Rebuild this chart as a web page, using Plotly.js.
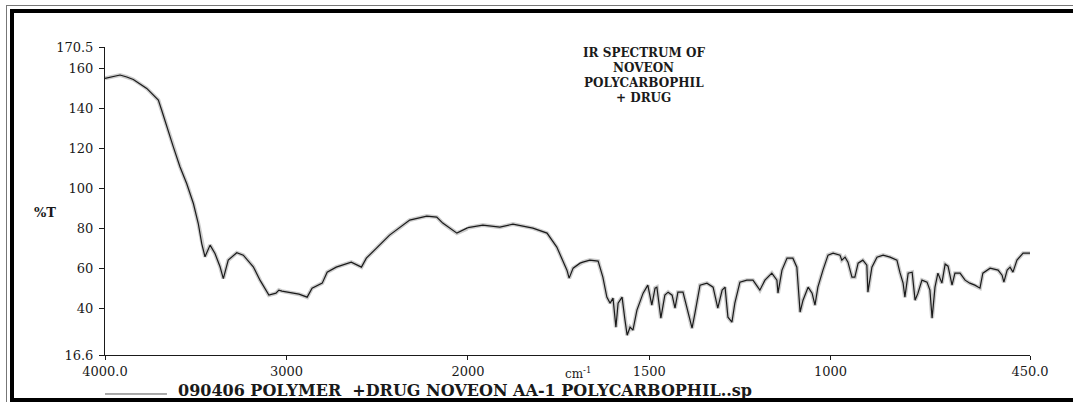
<!DOCTYPE html>
<html>
<head>
<meta charset="utf-8">
<script src="https://cdn.plot.ly/plotly-3.0.1.min.js"></script>
<style>
  html, body { margin: 0; padding: 0; background: #fff; overflow: hidden; }
  #wrap { position: relative; width: 1073px; height: 402px; overflow: hidden; }
  #chart { position: absolute; left: 0; top: 0; width: 1073px; height: 402px; }
  .frame-thin { position: absolute; left: 6px; top: 5px; width: 1200px; height: 500px;
    border-left: 1px solid #777; border-top: 1px solid #777; pointer-events: none; }
  .frame-thick { position: absolute; left: 10px; top: 9px; width: 1200px; height: 385px;
    border-left: 4px solid #000; border-top: 4px solid #000; border-bottom: 4px solid #000; pointer-events: none; }
</style>
</head>
<body>
<div id="wrap">
  <div id="chart"></div>
  <div class="frame-thin"></div>
  <div class="frame-thick"></div>
</div>
<script>
// Wavenumber (cm-1) and %T
const wavenumber = [
  4000, 3960, 3917, 3880, 3844, 3770, 3706, 3688, 3660, 3624, 3587, 3550, 3513,
  3486, 3467, 3449, 3421, 3394, 3366, 3348, 3321, 3274, 3238, 3183, 3146, 3120,
  3097, 3058, 3042, 3025, 2986, 2970, 2931, 2886, 2859, 2803,
  2776, 2726, 2643, 2587, 2560, 2504, 2432, 2321, 2227, 2172, 2139, 2061, 2006,
  1959, 1912, 1876, 1821, 1782, 1755, 1727, 1721, 1710, 1691, 1683, 1664, 1641,
  1628, 1617, 1608, 1600, 1592, 1586, 1575, 1567, 1561, 1553, 1545, 1534, 1517,
  1504, 1493, 1484, 1479, 1468, 1457, 1448, 1437, 1429, 1421, 1407, 1396, 1382,
  1374, 1360, 1341, 1324, 1311, 1299, 1291, 1283, 1272, 1264, 1250, 1231, 1214,
  1195, 1181, 1162, 1148, 1145, 1134, 1120, 1104, 1093, 1084, 1076, 1062, 1051,
  1043, 1035, 1021, 1007, 993, 974, 969, 960, 952, 941, 933, 924, 911, 900, 897,
  886, 872, 855, 836, 817, 809, 800, 795, 786, 775, 767, 759, 748, 734, 726, 720,
  712, 704, 693, 684, 676, 665, 657, 643, 629, 616, 602, 588, 580, 560, 538, 527,
  522, 513, 505, 497, 486, 469, 450
];
const transmittance = [
  154.8, 155.8, 156.5, 155.5, 154.3, 149.8, 144, 139, 130.7, 120.7, 110.7, 102.3, 92.3,
  82.3, 72.3, 65.7, 71.5, 67.3, 60.7, 54.8, 64, 67.7, 66.5, 60.7, 54, 50,
  46.5, 47.5, 49, 48.5, 48, 47.5, 47, 45.5, 50, 52.5,
  58, 60.5, 63, 60.5, 65, 70, 76.5, 84, 86, 85.5, 82.5, 77.5, 80,
  81.5, 80.5, 82, 80, 77.5, 70.5, 59, 55, 60, 62.5, 63, 64, 63.5,
  55.5, 45.5, 42.5, 45, 30.5, 42.5, 45.5, 34, 26.5, 30.5, 29, 39, 47.5,
  51.5, 41.5, 50, 50.5, 35, 46.5, 48, 46.5, 40, 48, 48, 40.5, 30,
  37.5, 51.5, 52.5, 50.5, 40, 49, 50.5, 35.5, 33, 42.5, 53, 54, 54,
  49, 54, 57.5, 54, 47.5, 59, 65, 65, 60.5, 38, 44, 50.5, 47.5,
  41.5, 50.5, 59, 66.5, 67.5, 66.5, 64, 65.5, 63, 55.5, 55.5, 62.5, 64, 61.5, 48,
  60.5, 65.5, 66.5, 65.5, 64, 58, 52.5, 45.5, 57.5, 58, 44, 47.5, 54, 53, 49, 35,
  50.5, 57.5, 52.5, 62, 61, 51.5, 57.5, 57.5, 54, 52.5, 51.5, 50, 57.5, 60, 59, 56.5,
  53, 59, 60.5, 58, 64, 67.5, 67.5
];

const xTicksHigh = [4000, 3000];
const xTickTextHigh = ['4000.0', '3000'];
const xTicksLow = [2000, 1500, 1000, 450];
const xTickTextLow = ['2000', '1500', '1000', '450.0'];
const yTicks = [16.6, 40, 60, 80, 100, 120, 140, 160, 170.5];
const yTickText = ['16.6', '40', '60', '80', '100', '120', '140', '160', '170.5'];
const titleLines = ['IR SPECTRUM OF', 'NOVEON', 'POLYCARBOPHIL', '+ DRUG'];
const sampleName = '090406 POLYMER  +DRUG NOVEON AA-1 POLYCARBOPHIL..sp';

const serif = 'DejaVu Serif, Liberation Serif, serif';
const ink = '#1a1a1a';

function traces(xa) {
  return [
    { x: wavenumber, y: transmittance, xaxis: xa, yaxis: 'y', type: 'scatter', mode: 'lines',
      line: { color: 'rgba(0,0,0,0.2)', width: 4 }, hoverinfo: 'skip', showlegend: false },
    { x: wavenumber, y: transmittance, xaxis: xa, yaxis: 'y', type: 'scatter', mode: 'lines',
      name: sampleName, line: { color: ink, width: 1.2 }, showlegend: false }
  ];
}

const data = traces('x').concat(traces('x2'));

const axisStyle = {
  showline: true, linecolor: ink, linewidth: 1, showgrid: false, zeroline: false,
  ticks: 'outside', tickcolor: ink, tickwidth: 1,
  tickfont: { family: serif, size: 13, color: ink }
};

const split = 0.3924;
const titleY = [0.9805, 0.9318, 0.8831, 0.8344];

const annotations = titleLines.map((t, i) => ({
  text: t, xref: 'paper', yref: 'paper', x: 0.5827, y: titleY[i],
  xanchor: 'center', yanchor: 'middle', showarrow: false, borderpad: 0,
  font: { family: serif, size: 12, color: ink, weight: 'bold' }
}));
annotations.push({
  text: '%T', xref: 'paper', yref: 'paper', x: -0.065, y: 0.464,
  xanchor: 'center', yanchor: 'middle', showarrow: false,
  font: { family: serif, size: 13, color: ink, weight: 'bold' }
});
annotations.push({
  text: 'cm<sup>-1</sup>', xref: 'paper', yref: 'paper', x: 0.511, y: -0.058,
  xanchor: 'center', yanchor: 'middle', showarrow: false, borderpad: 0,
  font: { family: serif, size: 12, color: ink }
});
annotations.push({
  text: sampleName, xref: 'paper', yref: 'paper', x: 0.0778, y: -0.1494,
  xanchor: 'left', yanchor: 'bottom', showarrow: false, borderpad: 0,
  font: { family: serif, size: 16, color: ink, weight: 'bold' }
});

const layout = {
  width: 1073, height: 402,
  margin: { l: 105, r: 43, t: 47, b: 47, pad: 0 },
  paper_bgcolor: '#fff', plot_bgcolor: '#fff',
  showlegend: false,
  xaxis: Object.assign({}, axisStyle, {
    domain: [0, split], range: [4000, 2000], anchor: 'y',
    tickmode: 'array', tickvals: xTicksHigh, ticktext: xTickTextHigh, ticklen: 4
  }),
  xaxis2: Object.assign({}, axisStyle, {
    domain: [split, 1], range: [2000, 450], anchor: 'y',
    tickmode: 'array', tickvals: xTicksLow, ticktext: xTickTextLow, ticklen: 4
  }),
  yaxis: Object.assign({}, axisStyle, {
    domain: [0, 1], range: [16.6, 170.5], anchor: 'x',
    tickmode: 'array', tickvals: yTicks, ticktext: yTickText, ticklen: 5,
    ticklabelstandoff: 3
  }),
  annotations: annotations,
  shapes: [{
    type: 'line', xref: 'paper', yref: 'paper', x0: 0, x1: 0.067, y0: -0.1266, y1: -0.1266,
    line: { color: '#555', width: 1 }
  }]
};

Plotly.newPlot('chart', data, layout, { staticPlot: true, displayModeBar: false });
</script>
</body>
</html>
